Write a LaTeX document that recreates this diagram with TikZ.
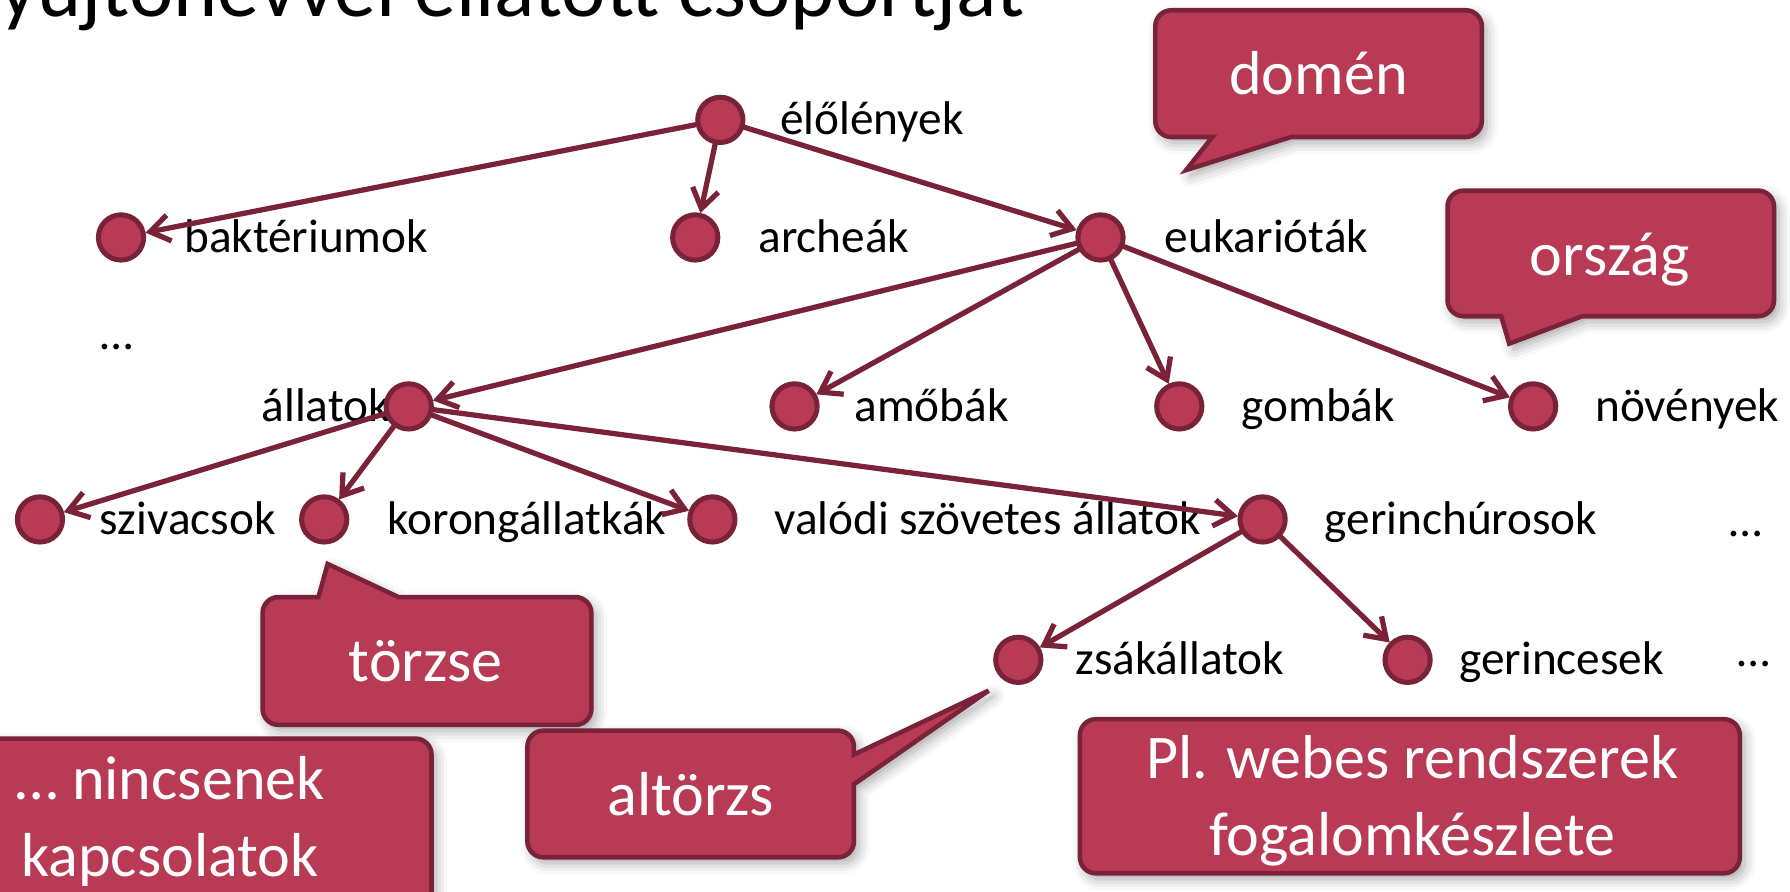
\documentclass[tikz,border=0pt]{standalone}
\usepackage{fontspec}
\setmainfont{Carlito}
\usetikzlibrary{arrows.meta,shadows.blur}

\definecolor{berry}{HTML}{B83A55}
\definecolor{berrydark}{HTML}{7A2338}

% rounded speech bubble: #1,#2 top-left, #3,#4 bottom-right,
% #5..#8 optional tail segments on the top, right, bottom, left edges
\newcommand{\bubblepath}[8]{%
  \path[bubble] ({#1+14},#2) #5 -- ({#3-14},#2) arc[start angle=90,end angle=0,radius=7pt]
    #6 -- (#3,{#4-14}) arc[start angle=0,end angle=-90,radius=7pt]
    #7 -- ({#1+14},#4) arc[start angle=270,end angle=180,radius=7pt]
    #8 -- (#1,{#2+14}) arc[start angle=180,end angle=90,radius=7pt] -- cycle;}

\tikzset{
  dot/.style={circle, fill=berry, draw=berrydark, line width=2.2pt,
    minimum size=19.8pt, inner sep=0pt, outer sep=0pt},
  lbl/.style={anchor=base west, inner sep=0pt, font=\fontsize{20.7}{24}\selectfont},
  link/.style={draw=berrydark, line width=2.3pt,
    -{Straight Barb[length=8.5pt,width=11.5pt]}, shorten >=1pt},
  bubble/.style={fill=berry, draw=berrydark, line width=2pt,
    blur shadow={shadow xshift=2pt, shadow yshift=-2.5pt,
      shadow blur radius=5pt, shadow opacity=35}},
  btext/.style={anchor=base, inner sep=0pt, text=white,
    font=\fontsize{27.2}{34}\selectfont},
}

\begin{document}
\begin{tikzpicture}[x=0.5pt, y=-0.5pt]
\useasboundingbox (0,0) rectangle (1568,781);
\clip (0,0) rectangle (1568,781);

% heading, cut by the top edge
\node[anchor=base east, inner sep=0pt, font=\fontsize{36.8}{40}\selectfont]
  (title) at (898,14.5) {gyűjtőnévvel ellátott csoportját};

% labels
\node[lbl] (t-ele) at (683,118) {élőlények};
\node[lbl] (t-bak) at (161,221) {baktériumok};
\node[lbl] (t-arc) at (664,221) {archeák};
\node[lbl] (t-euk) at (1020,221) {eukarióták};
\node[lbl] (t-d1) at (88,306) {…};
\node[lbl, anchor=base east] (t-all) at (342,369) {állatok};
\node[lbl] (t-amo) at (748,369) {amőbák};
\node[lbl] (t-gom) at (1087,369) {gombák};
\node[lbl] (t-nov) at (1397,369) {növények};
\node[lbl] (t-szi) at (87,468) {szivacsok};
\node[lbl] (t-kor) at (339,468) {korongállatkák};
\node[lbl] (t-val) at (678,468) {valódi szövetes állatok};
\node[lbl] (t-ger) at (1160,468) {gerinchúrosok};
\node[lbl] (t-d2) at (1515,470) {…};
\node[lbl] (t-zsa) at (942,591) {zsákállatok};
\node[lbl] (t-gin) at (1278,591) {gerincesek};
\node[lbl] (t-d3) at (1522,584) {…};

% taxon dots
\node[dot] (ele) at (631,105) {};
\node[dot] (bak) at (106,208) {};
\node[dot] (arc) at (609,208) {};
\node[dot] (euk) at (964,208) {};
\node[dot] (all) at (358,356) {};
\node[dot] (amo) at (696,356) {};
\node[dot] (gom) at (1033,356) {};
\node[dot] (nov) at (1343,356) {};
\node[dot] (szi) at (35,455) {};
\node[dot] (kor) at (284,455) {};
\node[dot] (val) at (624,455) {};
\node[dot] (ger) at (1106,455) {};
\node[dot] (zsa) at (892,578) {};
\node[dot] (gin) at (1233,578) {};

% parent -> child links
\foreach \p/\c in {ele/bak, ele/arc, ele/euk,
                   euk/all, euk/amo, euk/gom, euk/nov,
                   all/szi, all/kor, all/val, all/ger,
                   ger/zsa, ger/gin}
  \draw[link] (\p) -- (\c);

% speech bubbles
\bubblepath{1012}{9}{1298}{120}{}{}{-- (1131,120) -- (1039,149) -- (1062,120)}{}
\node[btext] (b-domen) at (1155,83) {domén};

\bubblepath{1268}{167}{1554}{277}{}{}{-- (1386,277) -- (1322,301) -- (1315,277)}{}
\node[btext] (b-orszag) at (1410,241) {ország};

\bubblepath{230}{523}{518}{635}{-- (279,523) -- (287,494) -- (349,523)}{}{}{}
\node[btext] (b-torzse) at (373,597) {törzse};

\bubblepath{462}{640}{748}{751}{}{-- (748,661) -- (866,605) -- (748,687)}{}{}
\node[btext] (b-altorzs) at (605,714) {altörzs};

\bubblepath{-120}{647}{378}{840}{}{}{}{}
\node[btext] (b-nincs1) at (149,700) {… nincsenek};
\node[btext] (b-nincs2) at (149,768) {kapcsolatok};

\bubblepath{946}{630}{1524}{765}{}{}{}{}
\node[btext] (b-webes1) at (1237,682) {Pl. webes rendszerek};
\node[btext] (b-webes2) at (1237,749) {fogalomkészlete};
\end{tikzpicture}
\end{document}
